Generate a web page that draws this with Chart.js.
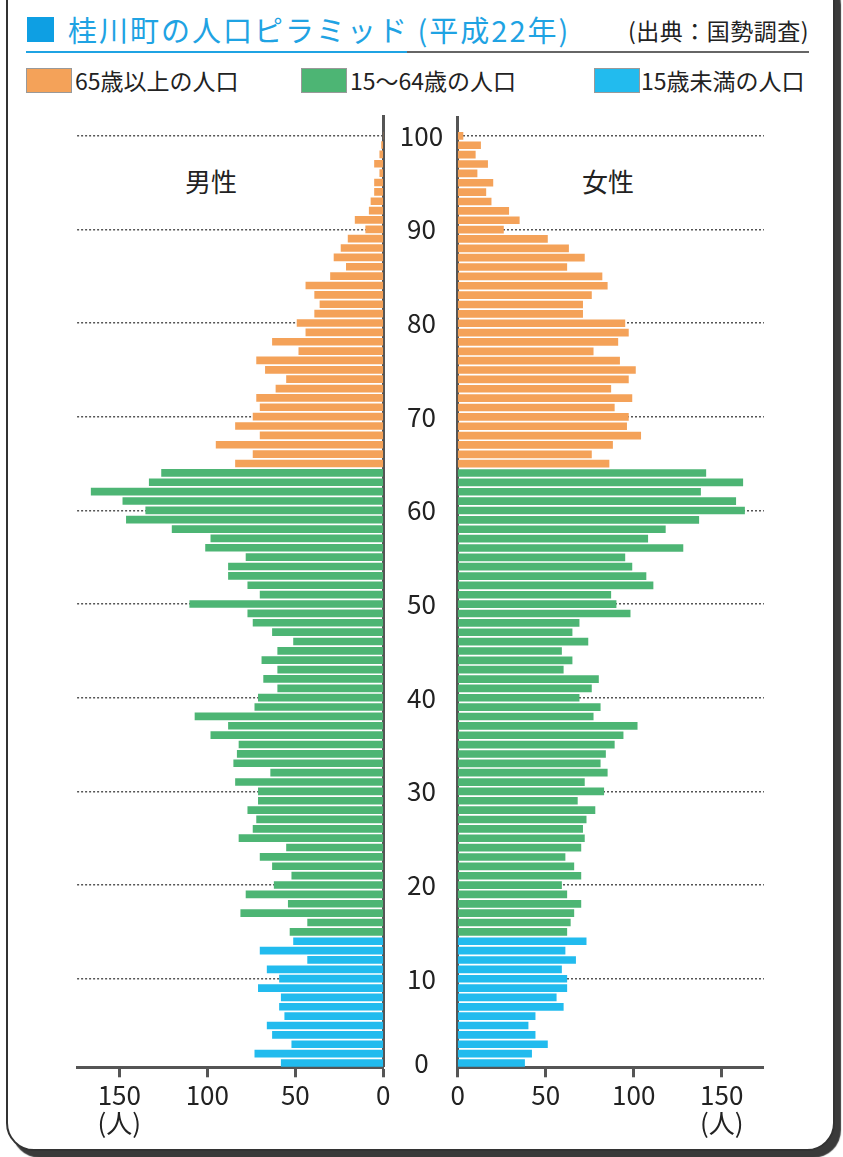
<!DOCTYPE html>
<html lang="ja">
<head>
<meta charset="UTF-8">
<title>桂川町の人口ピラミッド</title>
<script src="https://cdn.jsdelivr.net/npm/chart.js"></script>
<style>
  body { margin: 0; width: 843px; height: 1157px; background: #fff; overflow: hidden;
         font-family: "Noto Sans CJK JP", "Noto Sans", sans-serif; color: #222; }
  #card { position: absolute; left: 6px; top: -30px; width: 825px; height: 1177px;
          border: 2px solid #333; border-radius: 28px; background: #fff; box-shadow: 6px 7px 1px #3a3a3a; }
  .abs { position: absolute; white-space: nowrap; }
  #sq { left: 27px; top: 17px; width: 27px; height: 25px; background: #0e9fe3; }
  #title { left: 68px; top: 10px; font-size: 29px; line-height: 38px; letter-spacing: 2px; color: #1fa3e3; }
  #src { right: 34px; top: 15px; font-size: 23px; line-height: 30px; letter-spacing: 0.5px; color: #222; }
  #ruleBlue { left: 26px; top: 51px; width: 381px; height: 2px; background: #1fa3e3; }
  #ruleGray { left: 407px; top: 51px; width: 402px; height: 2px; background: #666; }
  .legBox { position: absolute; top: 68px; width: 44px; height: 23px; border: 1px solid #999; }
  .legText { position: absolute; top: 64px; font-size: 23px; line-height: 32px; }
  .sex { position: absolute; top: 163px; font-size: 26px; line-height: 36px; color: #222; }
  canvas { position: absolute; }
</style>
</head>
<body>
<div id="card"></div>
<div id="sq" class="abs"></div>
<div id="title" class="abs">桂川町の人口ピラミッド (平成22年)</div>
<div id="src" class="abs">(出典：国勢調査)</div>
<div id="ruleBlue" class="abs"></div>
<div id="ruleGray" class="abs"></div>
<div id="legend"></div>
<div class="sex" style="left:185px">男性</div>
<div class="sex" style="left:582px">女性</div>
<canvas id="maleChart" width="355" height="1050" style="left:40px; top:100px; width:355px; height:1050px"></canvas>
<canvas id="femaleChart" width="414" height="1063" style="left:386px; top:87px; width:414px; height:1063px"></canvas>
<script>
// ages from 100 (top) down to 1 (bottom)
const ages = Array.from({ length: 100 }, (_, i) => 100 - i);

const male = [
  0, 1, 2, 5, 2, 5, 5, 7, 8, 16,
  10, 20, 24, 28, 21, 30, 44, 39, 36, 39,
  49, 44, 63, 48, 72, 67, 55, 61, 72, 70,
  74, 84, 70, 95, 74, 84, 126, 133, 166, 148,
  135, 146, 120, 98, 101, 78, 88, 88, 77, 70,
  110, 77, 74, 63, 51, 60, 69, 60, 68, 60,
  71, 73, 107, 88, 98, 82, 83, 85, 64, 84,
  71, 71, 77, 72, 74, 82, 55, 70, 63, 52,
  62, 78, 54, 81, 43, 53, 51, 70, 43, 66,
  59, 71, 58, 59, 56, 66, 63, 52, 73, 58
];

const female = [
  3, 13, 10, 17, 11, 20, 16, 19, 29, 35,
  26, 51, 63, 72, 62, 82, 85, 76, 71, 71,
  95, 97, 91, 77, 92, 101, 97, 87, 99, 89,
  97, 96, 104, 88, 76, 86, 141, 162, 138, 158,
  163, 137, 118, 108, 128, 95, 99, 107, 111, 87,
  90, 98, 69, 65, 74, 59, 65, 60, 80, 76,
  69, 81, 77, 102, 94, 89, 84, 81, 85, 72,
  83, 68, 78, 73, 71, 72, 70, 61, 66, 70,
  59, 62, 70, 66, 64, 62, 73, 61, 67, 59,
  62, 62, 56, 60, 44, 40, 44, 51, 42, 38
];

const groupLabels = ['65歳以上の人口', '15～64歳の人口', '15歳未満の人口'];
const groupColors = ['#f4a259', '#4db574', '#22bbee'];

const xTicks = [0, 50, 100, 150];
const ageTicks = [1, 10, 20, 30, 40, 50, 60, 70, 80, 90, 100];
const ageTickLabels = ['0', '10', '20', '30', '40', '50', '60', '70', '80', '90', '100'];

const FONT = '"Noto Sans CJK JP", "Noto Sans", sans-serif';

// legend
const legendPos = [[26, 75], [301, 350], [594, 641]];
const legend = document.getElementById('legend');
groupLabels.forEach((label, i) => {
  const box = document.createElement('div');
  box.className = 'legBox';
  box.style.left = legendPos[i][0] + 'px';
  box.style.background = groupColors[i];
  legend.appendChild(box);
  const txt = document.createElement('div');
  txt.className = 'legText';
  txt.style.left = legendPos[i][1] + 'px';
  txt.textContent = label;
  legend.appendChild(txt);
});

function barColor(age) {
  if (age >= 65) return groupColors[0];
  if (age >= 15) return groupColors[1];
  return groupColors[2];
}

function makeChart(id, values, isLeft) {
  new Chart(document.getElementById(id), {
    type: 'bar',
    data: {
      datasets: [{
        data: ages.map((a, i) => ({ x: values[i], y: a })),
        backgroundColor: ages.map(barColor),
        borderWidth: 0,
        barThickness: 7
      }]
    },
    options: {
      indexAxis: 'y',
      responsive: false,
      animation: false,
      layout: {
        padding: isLeft
          ? { left: 37.1, right: 11.7, top: 16.9, bottom: 2.7 }
          : { left: 0, right: 36.1, top: 16.9, bottom: 2.7 }
      },
      plugins: { legend: { display: false }, tooltip: { enabled: false } },
      scales: {
        x: {
          type: 'linear',
          reverse: isLeft,
          min: 0,
          max: 174,
          afterBuildTicks: s => { s.ticks = xTicks.map(v => ({ value: v })); },
          afterFit: s => { s.height = 80; },
          grid: { drawOnChartArea: false, drawTicks: true, tickLength: 10, tickWidth: 3, tickColor: '#555', color: '#555' },
          border: { color: '#555', width: 3 },
          ticks: {
            padding: 4,
            color: '#222',
            maxRotation: 0,
            autoSkip: false,
            font: { family: FONT, size: 26, lineHeight: 1.08 },
            callback: v => v === 150 ? ['150', '(人)'] : String(v)
          }
        },
        y: {
          type: 'linear',
          position: isLeft ? 'right' : 'left',
          min: 0.54,
          max: 102,
          offset: false,
          z: 1,
          afterBuildTicks: s => { s.ticks = ageTicks.map(v => ({ value: v })); },
          afterFit: s => { s.width = isLeft ? 0 : 71.7; },
          grid: {
            offset: false,
            drawTicks: false,
            color: '#555',
            lineWidth: c => (c.tick && c.tick.value < 10) ? 0 : 1.5
          },
          border: { color: '#555', width: 3, dash: [2, 2] },
          ticks: {
            display: !isLeft,
            crossAlign: 'center',
            padding: 14.6,
            color: '#222',
            font: { family: FONT, size: 26 },
            callback: (v, i) => ageTickLabels[i]
          }
        }
      }
    }
  });
}

makeChart('maleChart', male, true);
makeChart('femaleChart', female, false);
</script>
</body>
</html>
